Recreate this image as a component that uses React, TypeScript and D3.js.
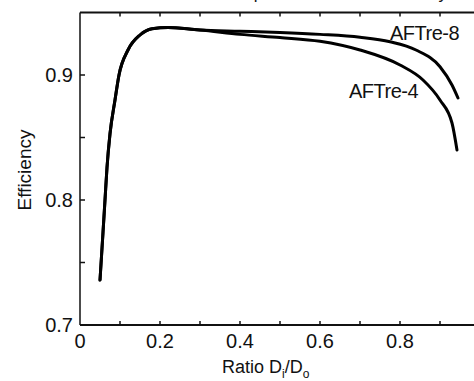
import React from "react";
import * as d3 from "d3";

const ratioShared = [0.05, 0.0575, 0.0625, 0.0675, 0.075, 0.0875, 0.0975, 0.12, 0.15, 0.18, 0.22, 0.3];
const effShared = [0.736, 0.774, 0.8, 0.826, 0.853, 0.88, 0.9, 0.92, 0.932, 0.937, 0.938, 0.936];

const ratio8 = [0.4, 0.5, 0.6, 0.7, 0.775, 0.84, 0.9, 0.93, 0.945];
const eff8 = [0.935, 0.934, 0.9325, 0.9302, 0.9266, 0.92, 0.9066, 0.892, 0.8816];

const ratio4 = [0.4, 0.5, 0.6, 0.7, 0.8, 0.8575, 0.9, 0.93, 0.9425];
const eff4 = [0.9325, 0.93, 0.927, 0.92, 0.908, 0.896, 0.88, 0.8616, 0.84];

const xTicks = [0, 0.2, 0.4, 0.6, 0.8];
const xMinor = [0.1, 0.2, 0.3, 0.4, 0.5, 0.6, 0.7, 0.8, 0.9];
const yTicks = [0.7, 0.8, 0.9];
const yMinor = [0.75, 0.8, 0.85, 0.9];

const seriesNames = ["AFTre-8", "AFTre-4"];
const titleText = "Optimum ratio for efficiency";

const W = 474, H = 381;
const FONT = "'Liberation Sans', Arial, sans-serif";

export default function App() {
  const x = d3.scaleLinear().domain([0, 1]).range([80, 480]);
  const y = d3.scaleLinear().domain([0.7, 0.95]).range([325, 12.5]);
  const line = d3
    .line<[number, number]>()
    .x((d) => x(d[0]))
    .y((d) => y(d[1]))
    .curve(d3.curveMonotoneX);

  const shared: [number, number][] = ratioShared.map((r, i) => [r, effShared[i]]);
  const s8: [number, number][] = shared.concat(ratio8.map((r, i) => [r, eff8[i]] as [number, number]));
  const s4: [number, number][] = shared.concat(ratio4.map((r, i) => [r, eff4[i]] as [number, number]));

  const x0 = x(0), x1 = x(1), y0 = y(0.7), y1 = y(0.95);

  return (
    <svg
      width={W}
      height={H}
      style={{ position: "fixed", left: 0, top: 0, background: "#fff" }}
      fontFamily={FONT}
    >
      <rect x={0} y={0} width={W} height={H} fill="#fff" />
      <text x={447} y={-1} textAnchor="end" fontSize={17} fill="#111">
        {titleText}
      </text>
      {/* frame */}
      <line x1={x0} x2={x1} y1={y1} y2={y1} stroke="#111" strokeWidth={2} />
      <line x1={x0} x2={x1} y1={y0} y2={y0} stroke="#111" strokeWidth={2} />
      <line x1={x0} x2={x0} y1={y1} y2={y0} stroke="#111" strokeWidth={1.5} />
      {/* x ticks */}
      {xMinor.map((t) => (
        <g key={"xt" + t}>
          <line x1={x(t)} x2={x(t)} y1={y0} y2={y0 - 4} stroke="#111" strokeWidth={1.5} />
          <line x1={x(t)} x2={x(t)} y1={y1} y2={y1 + 4} stroke="#111" strokeWidth={1.5} />
        </g>
      ))}
      {xTicks.map((t) => (
        <text key={"xl" + t} x={x(t)} y={y0 + 23} textAnchor="middle" fontSize={20} fill="#111">
          {t === 0 ? "0" : t.toFixed(1)}
        </text>
      ))}
      {/* y ticks */}
      {yMinor.map((t) => (
        <line key={"yt" + t} x1={x0} x2={x0 + 5} y1={y(t)} y2={y(t)} stroke="#111" strokeWidth={1.5} />
      ))}
      {yTicks.map((t) => (
        <text key={"yl" + t} x={x0 - 7} y={y(t) + 7} textAnchor="end" fontSize={20} fill="#111">
          {t.toFixed(1)}
        </text>
      ))}
      {/* axis titles */}
      <text
        transform={`translate(31,170) rotate(-90)`}
        textAnchor="middle"
        fontSize={19}
        fill="#111"
      >
        Efficiency
      </text>
      <text x={222} y={373} fontSize={18} fill="#111">
        Ratio D
        <tspan fontSize={12} dy={5}>i</tspan>
        <tspan dy={-5}>/D</tspan>
        <tspan fontSize={12} dy={5}>o</tspan>
      </text>
      {/* curves */}
      <path d={line(s8) || ""} fill="none" stroke="#000" strokeWidth={3} strokeLinejoin="round" strokeLinecap="round" />
      <path d={line(s4) || ""} fill="none" stroke="#000" strokeWidth={3} strokeLinejoin="round" strokeLinecap="round" />
      <text x={390} y={40} fontSize={20} fill="#111" letterSpacing={-0.5}>
        {seriesNames[0]}
      </text>
      <text x={349} y={98} fontSize={20} fill="#111" letterSpacing={-0.5}>
        {seriesNames[1]}
      </text>
    </svg>
  );
}
